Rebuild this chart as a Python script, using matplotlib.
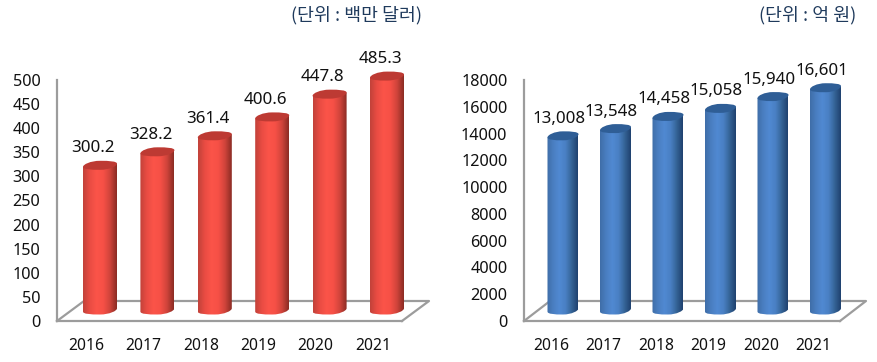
import numpy as np
import matplotlib
matplotlib.use("Agg")
import matplotlib.pyplot as plt
from matplotlib.colors import LinearSegmentedColormap
from matplotlib.patches import PathPatch
from matplotlib.path import Path

plt.rcParams['font.family'] = ['Noto Sans', 'DejaVu Sans']

W, H = 878, 362

years = ["2016", "2017", "2018", "2019", "2020", "2021"]
usd_values = [300.2, 328.2, 361.4, 400.6, 447.8, 485.3]
usd_labels = ["300.2", "328.2", "361.4", "400.6", "447.8", "485.3"]
usd_ticks = [0, 50, 100, 150, 200, 250, 300, 350, 400, 450, 500]
krw_values = [13008, 13548, 14458, 15058, 15940, 16601]
krw_labels = ["13,008", "13,548", "14,458", "15,058", "15,940", "16,601"]
krw_ticks = [0, 2000, 4000, 6000, 8000, 10000, 12000, 14000, 16000, 18000]

red_cmap = LinearSegmentedColormap.from_list(
    "red3d", ["#c2423a", "#ea4c43", "#fb5449", "#f65046", "#d0443b", "#8c2c24"])
blue_cmap = LinearSegmentedColormap.from_list(
    "blue3d", ["#3f6ea8", "#4a7fc2", "#5089d2", "#4a80c4", "#356497", "#1f426f"])
GREY = "#9c9c9c"


def cylinder(ax, x, value, half_w, ry, base, cmap, top_color, px_per_x, px_per_y):
    # half_w and ry are in pixels, turned into data units here
    hw = half_w / px_per_x
    r = ry / px_per_y
    k = 0.5522
    tilt = 1.6 / px_per_y
    verts = [(x - hw, value - tilt), (x - hw, base - tilt),
             (x - hw, base - k * r - tilt), (x - k * hw, base - r), (x, base - r),
             (x + k * hw, base - r), (x + hw, base - k * r + tilt), (x + hw, base + tilt),
             (x + hw, value + tilt), (x - hw, value - tilt)]
    codes = [Path.MOVETO, Path.LINETO, Path.CURVE4, Path.CURVE4, Path.CURVE4,
             Path.CURVE4, Path.CURVE4, Path.CURVE4, Path.LINETO, Path.CLOSEPOLY]
    clip = PathPatch(Path(verts, codes), transform=ax.transData, fc="none", ec="none", clip_on=False)
    ax.add_patch(clip)
    grad = np.linspace(0, 1, 64).reshape(1, -1)
    im = ax.imshow(grad, cmap=cmap, aspect="auto", zorder=3, interpolation="bilinear",
                   extent=[x - hw, x + hw, base - r - tilt, value + r + tilt])
    im.set_clip_box(fig.bbox)
    im.set_clip_path(clip)
    # top cap
    cap = [(x - hw, value - tilt),
           (x - hw, value + k * r - tilt), (x - k * hw, value + r), (x, value + r),
           (x + k * hw, value + r), (x + hw, value + k * r + tilt), (x + hw, value + tilt),
           (x + hw, value - k * r + tilt), (x + k * hw, value - r), (x, value - r),
           (x - k * hw, value - r), (x - hw, value - k * r - tilt), (x - hw, value - tilt)]
    cap_codes = [Path.MOVETO] + [Path.CURVE4] * 12
    ax.add_patch(PathPatch(Path(cap, cap_codes), fc=top_color, ec="none", zorder=4, clip_on=False))


def chart(left, right, x0, step, ticks, top, values, labels, cmap, top_color,
          depth_x, depth_y, bar_dx, half_w, unit, unit_x, label_dx):
    y_bottom, y_top = 321, 80
    ax = fig.add_axes([left / W, 1 - y_bottom / H, (right - left) / W, (y_bottom - y_top) / H])
    px_per_y = (y_bottom - y_top) / top
    for s in ["top", "right"]:
        ax.spines[s].set_visible(False)
    for s in ["left", "bottom"]:
        ax.spines[s].set_color(GREY)
        ax.spines[s].set_linewidth(1.6)
    ax.set_xticks(range(len(years)), years, fontsize=11.3, color="#111111")
    ax.set_yticks(ticks)
    ax.tick_params(axis="y", length=0, pad=12, labelsize=11.7, labelcolor="#111111")
    ax.tick_params(axis="x", length=0, pad=12.5)
    # floor of the 3D box
    fx = [0, depth_x / (right - left), 1 + depth_x / (right - left), 1]
    fy = [0, depth_y / (y_bottom - y_top), depth_y / (y_bottom - y_top), 0]
    ax.plot(fx, fy, color=GREY, lw=1.6, transform=ax.transAxes, clip_on=False, zorder=2)
    base = 11 / px_per_y
    for i, v in enumerate(values):
        cylinder(ax, i + bar_dx / step, v + base, half_w, 4.5, base, cmap, top_color, step, px_per_y)
        ax.annotate(labels[i], (i, v), xytext=(label_dx * 0.72, 28 * 0.72), textcoords="offset points",
                    ha="center", va="center", fontsize=12.2, color="#111111", zorder=5,
                    annotation_clip=False)
    ax.set_xlim((left - x0) / step, (right - x0) / step)
    ax.set_ylim(0, top)
    ax.patch.set_alpha(0)
    fig.text(unit_x / W, 1 - 15 / H, unit, ha="right", va="center", fontsize=13.2,
             color="#1f3a5c", family=["Noto Sans CJK KR", "DejaVu Sans"])


fig = plt.figure(figsize=(W / 100, H / 100), dpi=100)
chart(57, 402, 86, 57.4, usd_ticks, 500, usd_values, usd_labels, red_cmap, "#bd3a33",
      27, 20, 14, 17, "(단위 : 백만 달러)", 422, 7)
chart(524, 840, 551, 52.5, krw_ticks, 18000, krw_values, krw_labels, blue_cmap, "#2f5e96",
      26, 20, 12, 15.5, "(단위 : 억 원)", 856, 8)
fig.savefig("out.png", dpi=100)
